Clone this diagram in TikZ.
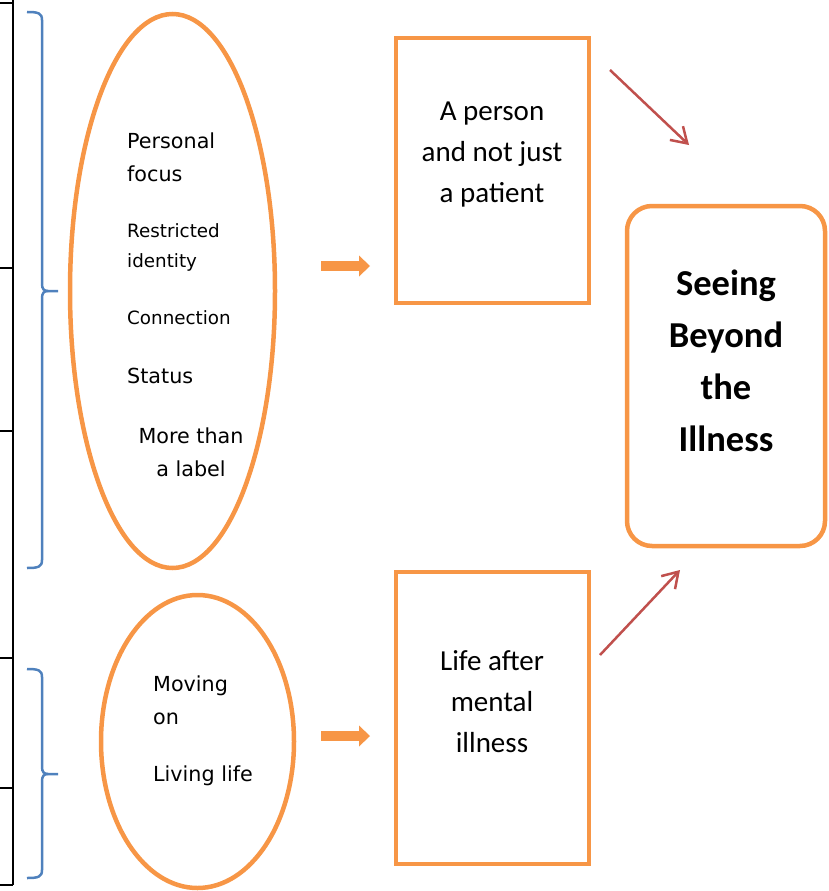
\documentclass[tikz,border=0pt]{standalone}
\usepackage{fontspec}
\setmainfont{Carlito}
\newfontfamily\tahoma{DejaVu Sans}
\usepackage{tikz}
\usetikzlibrary{positioning,shapes.geometric,arrows.meta}
\definecolor{orangeline}{HTML}{F79646}
\definecolor{redline}{HTML}{C0504D}
\definecolor{blueline}{HTML}{4F81BD}

\begin{document}
\begin{tikzpicture}[x=1pt,y=-1pt]
        \tikzstyle{oval}=[ellipse, draw=orangeline, line width=4.5pt, inner sep=0pt]
        \tikzstyle{box}=[rectangle, draw=orangeline, line width=4.5pt, inner sep=0pt]
        \tikzstyle{bigtext}=[font=\tahoma\fontsize{20.7}{33}\selectfont, align=left, anchor=west, inner sep=0pt]
        \tikzstyle{smalltext}=[font=\tahoma\fontsize{18.3}{30}\selectfont, align=left, anchor=west, inner sep=0pt]
        \tikzstyle{boxtext}=[font=\fontsize{29}{41}\selectfont, align=center, inner sep=0pt]
        \tikzstyle{titletext}=[font=\bfseries\fontsize{36.5}{52}\selectfont, align=center, inner sep=0pt]
        \tikzstyle{push}=[-{Triangle[length=11pt,width=21pt,line width=0pt]}, draw=orangeline, line width=10pt]
        \tikzstyle{lead}=[-{Straight Barb[length=15pt,width=19pt]}, draw=redline, line width=2.5pt]
        \tikzstyle{brace}=[draw=blueline, line width=2.5pt]

        \useasboundingbox (0,0) rectangle (829,891);

        % table edge
        \draw[line width=2.5pt] (13,0) -- (13,885);
        \foreach \y in {3,268,431,658,788,885}
            \draw[line width=2.5pt] (0,\y) -- (13,\y);

        % braces
        \draw[brace] (27,12) .. controls (38,12) and (42,13) .. (42,20) -- (42,284)
            .. controls (42,289) and (44,291) .. (48,291) -- (58,291);
        \draw[brace] (48,291) .. controls (44,291) and (42,293) .. (42,298) -- (42,560)
            .. controls (42,567) and (38,568) .. (27,568);
        \draw[brace] (27,669) .. controls (38,669) and (42,670) .. (42,677) -- (42,767)
            .. controls (42,772) and (44,774) .. (48,774) -- (58,774);
        \draw[brace] (48,774) .. controls (44,774) and (42,776) .. (42,781) -- (42,870)
            .. controls (42,877) and (38,878) .. (27,878);

        \node[oval, minimum width=205pt, minimum height=554pt] (traits) at (172.5,291) {};
        \node[oval, minimum width=193pt, minimum height=293pt] (moving) at (197.5,741.5) {};
        \node[box, minimum width=193pt, minimum height=265pt] (person) at (492.5,170.5) {};
        \node[box, minimum width=193pt, minimum height=292pt] (life) at (492.5,718) {};
        \node[box, rounded corners=25pt, minimum width=198pt, minimum height=340pt] (seeing) at (726,376) {};

        \node[bigtext]   (focus)    at (127,157) {Personal\\focus};
        \node[smalltext] (identity) at (127,247) {Restricted\\identity};
        \node[smalltext] (connect)  at (127,318) {Connection};
        \node[bigtext]   (status)   at (127,376) {Status};
        \node[bigtext, align=center, anchor=center] (label) at (191,452) {More than\\a label};
        \node[bigtext]   (moveon)   at (153,700) {Moving\\on};
        \node[bigtext]   (living)   at (153,776) {Living life};

        \node[boxtext]   (persontext) at (492,155) {A person\\and not just\\a patient};
        \node[boxtext]   (lifetext)   at (492,702) {Life after\\mental\\illness};
        \node[titletext] (seeingtext) at (726,361) {Seeing\\Beyond\\the\\Illness};

        \coordinate (p1) at (321,266);
        \coordinate (p2) at (370,266);
        \coordinate (p3) at (321,736);
        \coordinate (p4) at (370,736);
        \draw[push] (p1) -- (p2);
        \draw[push] (p3) -- (p4);

        \coordinate (r1) at (610,70);
        \coordinate (r2) at (689,145);
        \coordinate (r3) at (600,655);
        \coordinate (r4) at (680,570);
        \draw[lead] (r1) -- (r2);
        \draw[lead] (r3) -- (r4);
    \end{tikzpicture}
\end{document}
